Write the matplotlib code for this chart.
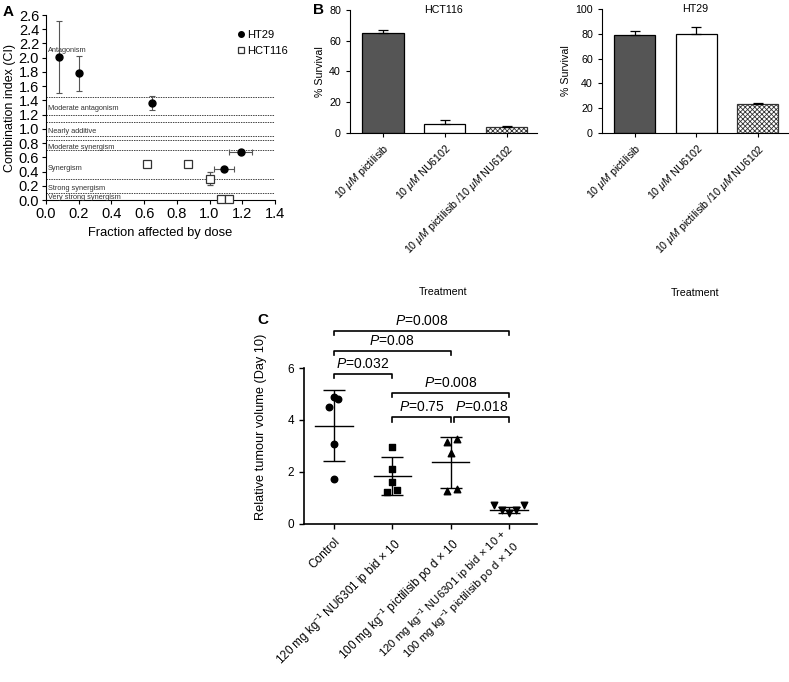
import numpy as np
import matplotlib
matplotlib.use("Agg")
import matplotlib.pyplot as plt
from matplotlib.lines import Line2D

plt.rcParams['font.family'] = ['Liberation Sans', 'DejaVu Sans']
plt.rcParams['mathtext.fontset'] = 'custom'
plt.rcParams['mathtext.rm'] = 'Liberation Sans'
plt.rcParams['mathtext.it'] = 'Liberation Sans:italic'
plt.rcParams['hatch.linewidth'] = 0.6

# ---- panel A data: combination index vs fraction affected
ht29_fa = [0.08, 0.20, 0.65, 1.09, 1.19]
ht29_ci = [2.01, 1.78, 1.36, 0.43, 0.68]
ht29_ci_err = [0.51, 0.25, 0.10, 0.02, 0.02]
ht29_fa_err = [0.0, 0.0, 0.0, 0.06, 0.07]
hct_fa = [0.62, 0.87, 1.00, 1.07, 1.12]
hct_ci = [0.50, 0.50, 0.30, 0.02, 0.02]
hct_ci_err = [0.0, 0.0, 0.09, 0.0, 0.0]
ci_bounds = [1.45, 1.2, 1.1, 0.9, 0.85, 0.7, 0.3, 0.1]
ci_regions = ["Antagonism", "Moderate antagonism", "Nearly additive",
              "Moderate synergism", "Synergism", "Strong synergism",
              "Very strong synergism"]
ci_region_y = [2.10, 1.28, 0.97, 0.74, 0.45, 0.16, 0.04]

# ---- panel B data: % survival
treat_b = [r"10 $\mathit{\mu M}$ pictilisib", r"10 $\mathit{\mu M}$ NU6102",
           r"10 $\mathit{\mu M}$ pictilisib /10 $\mathit{\mu M}$ NU6102"]
hct116_surv = [65, 6, 4]
hct116_err = [2.0, 2.5, 0.5]
ht29_surv = [79, 80, 23.5]
ht29_err = [3.0, 5.5, 1.0]

# ---- panel C data: relative tumour volume day 10
groups_c = ["Control",
            "120 mg kg$^{-1}$ NU6301 ip bid × 10",
            "100 mg kg$^{-1}$ pictilisib po d × 10",
            "120 mg kg$^{-1}$ NU6301 ip bid × 10 +\n100 mg kg$^{-1}$ pictilisib po d × 10"]
vol_control = [4.88, 4.81, 4.49, 3.07, 1.72]
vol_nu = [2.96, 2.13, 1.63, 1.22, 1.29]
vol_pic = [3.17, 3.26, 2.72, 1.35, 1.26]
vol_combo = [0.73, 0.73, 0.55, 0.55, 0.42]
jitter = [[0.0, 0.07, -0.09, 0.0, 0.0],
          [0.0, 0.0, 0.0, -0.09, 0.08],
          [-0.07, 0.10, 0.0, 0.10, -0.07],
          [-0.25, 0.26, -0.12, 0.12, 0.0]]
mean_c = [3.78, 1.85, 2.37, 0.54]
sd_c = [1.36, 0.72, 0.98, 0.13]
markers_c = ['o', 's', '^', 'v']
comparisons = [(1, 4, 7.42, "0.008"), (1, 3, 6.65, "0.08"), (1, 2, 5.78, "0.032"),
               (2, 4, 5.04, "0.008"), (2, 3, 4.10, "0.75"), (3.05, 4, 4.10, "0.018")]

fig = plt.figure(figsize=(7.89, 6.82), dpi=100)

# ================= A
axA = fig.add_axes([0.0583, 0.7067, 0.2902, 0.2713])
for b in ci_bounds:
    axA.axhline(b, color='#444444', ls=(0, (1.5, 1.0)), lw=0.7, zorder=1)
for lab, yy in zip(ci_regions, ci_region_y):
    axA.text(0.01, yy, lab, fontsize=5.3, color='#333333', va='center', ha='left')
axA.errorbar(ht29_fa, ht29_ci, yerr=ht29_ci_err, xerr=ht29_fa_err, fmt='o', color='black',
             ms=5, ecolor='#555555', elinewidth=0.8, capsize=2, capthick=0.8,
             clip_on=False, zorder=3)
axA.errorbar(hct_fa, hct_ci, yerr=hct_ci_err, fmt='s', mfc='white', mec='#333333',
             ms=5.5, mew=0.9, ecolor='#555555', elinewidth=0.8, capsize=2, capthick=0.8,
             clip_on=False, zorder=3)
axA.set_xlim(0, 1.4)
axA.set_ylim(0, 2.6)
axA.set_xticks(np.arange(0, 1.41, 0.2))
axA.set_yticks(np.arange(0, 2.61, 0.2))
axA.xaxis.set_major_formatter(matplotlib.ticker.FormatStrFormatter('%.1f'))
axA.yaxis.set_major_formatter(matplotlib.ticker.FormatStrFormatter('%.1f'))
axA.tick_params(labelsize=10.5, length=3, width=0.8, pad=2)
axA.set_xlabel("Fraction affected by dose", fontsize=9.3, labelpad=4)
axA.set_ylabel("Combination index (CI)", fontsize=9, labelpad=2)
for s in ['top', 'right']:
    axA.spines[s].set_visible(False)
handles = [Line2D([], [], ls='none', marker='o', color='black', ms=4),
           Line2D([], [], ls='none', marker='s', mfc='white', mec='#333333', ms=4.5, mew=0.9)]
axA.legend(handles, ['HT29', 'HCT116'], loc='upper right', bbox_to_anchor=(1.1, 0.975),
           frameon=False, fontsize=8, handletextpad=0.1, handlelength=0.9, labelspacing=0.6)
fig.text(0.003, 0.982, "A", fontsize=11, fontweight='bold', va='center')

# ================= B
def bar_panel(rect, vals, errs, ymax, step, title):
    ax = fig.add_axes(rect)
    x = np.arange(len(vals))
    colors = ['#555555', 'white', 'white']
    bars = ax.bar(x, vals, width=0.67, color=colors, edgecolor='black', linewidth=0.9, zorder=2)
    bars[2].set_hatch('xxxxxxx')
    bars[2].set_edgecolor('#333333')
    ax.errorbar(x, vals, yerr=[np.zeros(len(vals)), errs], fmt='none', ecolor='black',
                elinewidth=0.9, capsize=3.5, capthick=0.9, zorder=3)
    ax.set_xlim(-0.53, 2.49)
    ax.set_ylim(0, ymax)
    ax.set_yticks(np.arange(0, ymax + 1, step))
    ax.set_xticks(x)
    ax.set_xticklabels(treat_b, rotation=45, ha='right', rotation_mode='anchor', fontsize=7.7)
    ax.tick_params(labelsize=7.7, length=3, width=0.8)
    ax.set_ylabel("% Survival", fontsize=7.7, labelpad=3)
    ax.set_xlabel("Treatment", fontsize=7.7)
    ax.xaxis.set_label_coords(0.5, -1.25)
    ax.text(0.5, 1.0, title, transform=ax.transAxes, ha='center', va='center', fontsize=7.7)
    for s in ['top', 'right']:
        ax.spines[s].set_visible(False)
    return ax

axB1 = bar_panel([0.4436, 0.805, 0.237, 0.1804], hct116_surv, hct116_err, 80, 20, "HCT116")
axB2 = bar_panel([0.763, 0.805, 0.2357, 0.1818], ht29_surv, ht29_err, 100, 20, "HT29")
fig.text(0.397, 0.985, "B", fontsize=11, fontweight='bold', va='center')

# ================= C
axC = fig.add_axes([0.3853, 0.2317, 0.2953, 0.2287])
for i, vals in enumerate([vol_control, vol_nu, vol_pic, vol_combo]):
    xs = [i + 1 + j for j in jitter[i]]
    axC.scatter(xs, vals, marker=markers_c[i], color='black', s=22, zorder=3, clip_on=False)
    m, sd = mean_c[i], sd_c[i]
    axC.plot([i + 1 - 0.32, i + 1 + 0.32], [m, m], color='black', lw=1.0, zorder=2)
    axC.errorbar(i + 1, m, yerr=sd, fmt='none', ecolor='black', elinewidth=1.0,
                 capsize=8, capthick=1.0, zorder=2)
for x1, x2, yb, p in comparisons:
    axC.plot([x1, x1, x2, x2], [yb - 0.16, yb, yb, yb - 0.16], color='black', lw=1.2,
             clip_on=False)
    axC.text((x1 + x2) / 2, yb + 0.12, "$\\it{P}$=" + p, ha='center', va='bottom',
             fontsize=10, clip_on=False)
axC.set_xlim(0.485, 4.48)
axC.set_ylim(0, 6)
axC.set_yticks([0, 2, 4, 6])
axC.set_xticks([1, 2, 3, 4])
axC.set_xticklabels(groups_c[:3] + [""], rotation=45, ha='right', rotation_mode='anchor',
                    fontsize=8.6)
# two-line label of the combination group, nudged left like the original
axC.annotate(groups_c[3], xy=(4, 0), xycoords=('data', 'axes fraction'),
             xytext=(-7, -2), textcoords='offset points', rotation=45, ha='right',
             va='top', rotation_mode='anchor', multialignment='right', fontsize=8.2,
             linespacing=1.1, annotation_clip=False)
axC.tick_params(labelsize=8.5, length=3.5, width=1.0)
axC.tick_params(axis='x', pad=5)
axC.set_ylabel("Relative tumour volume (Day 10)", fontsize=9.2)
axC.yaxis.set_label_coords(-0.16, 0.62)
for s in ['top', 'right']:
    axC.spines[s].set_visible(False)
for s in ['left', 'bottom']:
    axC.spines[s].set_linewidth(1.2)
fig.text(0.326, 0.531, "C", fontsize=11, fontweight='bold', va='center')

fig.savefig("out.png", dpi=100)
